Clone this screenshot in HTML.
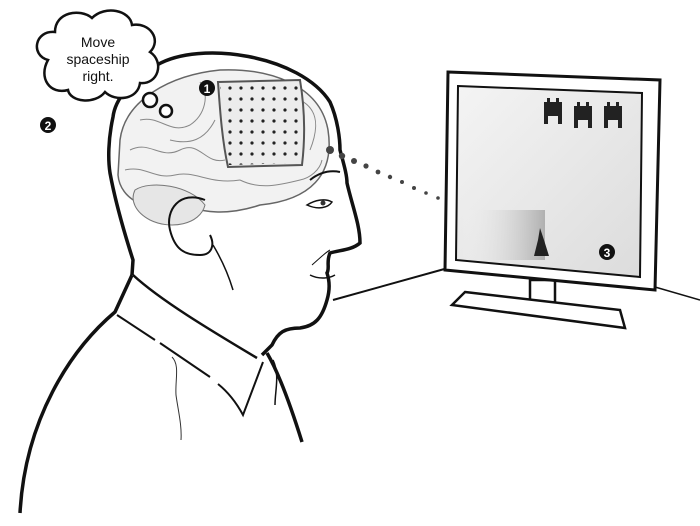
<!DOCTYPE html>
<html><head><meta charset="utf-8"><style>
html,body{margin:0;padding:0;background:#fff;}
svg{display:block;}
text{font-family:"Liberation Sans",sans-serif;}
</style></head><body>
<svg width="700" height="526" viewBox="0 0 700 526" xmlns="http://www.w3.org/2000/svg">
<defs>
<linearGradient id="scr" x1="0" y1="0" x2="1" y2="1">
<stop offset="0" stop-color="#f4f4f4"/><stop offset="1" stop-color="#dcdcdc"/>
</linearGradient>
<linearGradient id="trail" x1="0" y1="0" x2="1" y2="0">
<stop offset="0" stop-color="#fff" stop-opacity="0"/><stop offset="1" stop-color="#999"/>
</linearGradient>
<pattern id="dots" x="226" y="84" width="11" height="11" patternUnits="userSpaceOnUse">
<circle cx="4" cy="4" r="1.6" fill="#222"/>
</pattern>
</defs>

<!-- table lines -->
<path d="M333 300 L448 268" stroke="#111" stroke-width="2" fill="none"/>
<path d="M655 287 L700 300" stroke="#111" stroke-width="1.5" fill="none"/>

<!-- brain -->
<path d="M120 140 C125 100 170 75 220 70 C270 68 320 85 328 130 C335 175 310 200 260 205 C230 215 200 215 175 200 C150 215 120 200 118 175 Z" fill="#f2f2f2" stroke="#666" stroke-width="1.5"/>
<path d="M135 190 C150 180 190 185 205 205 C200 225 170 230 150 220 C135 212 130 200 135 190 Z" fill="#e6e6e6" stroke="#777" stroke-width="1"/>
<g stroke="#888" stroke-width="1" fill="none">
<path d="M130 150 C150 140 160 160 180 150 C200 140 205 165 225 160"/>
<path d="M140 120 C160 115 170 135 190 125 C205 115 210 95 200 82"/>
<path d="M125 170 C145 165 155 180 175 175 C195 170 210 185 240 180"/>
<path d="M215 120 C205 140 190 145 170 140"/>
<path d="M300 100 C320 110 318 130 310 150"/>
<path d="M240 180 C260 190 280 185 300 180 C310 178 320 170 322 160"/>
</g>

<!-- head outline -->
<path d="M157 65 C200 40 300 55 330 102 C338 120 340 140 340 150 C344 165 347 175 347 183 C352 205 360 225 360 243 C352 250 340 250 330 253 C326 262 330 268 327 273 C330 282 330 290 327 300 C322 318 315 326 300 328 C285 328 278 332 272 345 L262 355" fill="none" stroke="#111" stroke-width="3.5"/>
<path d="M157 65 C130 80 115 100 113 117 C108 140 108 160 110 173 C115 200 125 235 133 260 L132 275" fill="none" stroke="#111" stroke-width="3.5"/>
<!-- ear -->
<path d="M205 200 C180 190 165 210 170 230 C175 250 185 255 200 255 C212 255 215 245 210 235" fill="none" stroke="#111" stroke-width="2"/>
<path d="M213 245 C225 265 230 280 233 290" fill="none" stroke="#111" stroke-width="1.5"/>
<!-- eye / brow -->
<path d="M310 180 C320 172 330 170 340 172" fill="none" stroke="#111" stroke-width="2"/>
<path d="M307 205 C315 200 325 198 332 202 C328 208 318 210 307 205 Z" fill="none" stroke="#111" stroke-width="1.5"/>
<circle cx="323" cy="203" r="2.5" fill="#333"/>
<path d="M310 275 C320 280 330 278 335 275" fill="none" stroke="#111" stroke-width="1.5"/>
<path d="M312 265 C320 258 326 252 330 250" fill="none" stroke="#111" stroke-width="1"/>

<!-- electrode array -->
<path d="M218 82 L300 80 C305 110 305 140 302 165 L228 167 C222 140 220 110 218 82 Z" fill="#ececec" stroke="#555" stroke-width="2"/>
<path d="M220 84 L300 82 C304 110 304 140 301 163 L229 165 C223 140 221 110 220 84 Z" fill="url(#dots)"/>

<!-- body -->
<path d="M132 275 L115 312 C70 350 25 420 20 513" fill="none" stroke="#111" stroke-width="3.5"/>
<path d="M133 275 C160 300 210 330 257 358" fill="none" stroke="#111" stroke-width="2.5"/>
<path d="M117 315 L155 340 M160 343 L210 377 M218 384 C228 392 236 402 243 415 L263 362" fill="none" stroke="#111" stroke-width="2"/>
<path d="M267 353 C280 375 292 410 302 442" fill="none" stroke="#111" stroke-width="3.5"/>
<path d="M273 360 C280 375 275 390 275 405" fill="none" stroke="#111" stroke-width="1.5"/>
<path d="M172 357 C180 365 175 380 176 395 C178 410 182 425 181 440" fill="none" stroke="#333" stroke-width="1"/>

<!-- dotted line -->
<g fill="#444">
<circle cx="330" cy="150" r="4"/><circle cx="342" cy="156" r="3.2"/><circle cx="354" cy="161" r="3"/><circle cx="366" cy="166" r="2.6"/>
<circle cx="378" cy="172" r="2.4"/><circle cx="390" cy="177" r="2.2"/><circle cx="402" cy="182" r="2"/><circle cx="414" cy="188" r="2"/>
<circle cx="426" cy="193" r="1.8"/><circle cx="438" cy="198" r="1.8"/>
<circle cx="462" cy="209" r="1.6"/><circle cx="474" cy="214" r="1.6"/><circle cx="486" cy="220" r="1.5"/><circle cx="498" cy="225" r="1.5"/><circle cx="510" cy="230" r="1.4"/><circle cx="522" cy="236" r="1.4"/>
</g>

<!-- monitor -->
<path d="M530 280 L530 305 L555 305 L555 280 Z" fill="#fff" stroke="#111" stroke-width="2.5"/>
<path d="M465 292 L620 310 L625 328 L452 305 Z" fill="#fff" stroke="#111" stroke-width="2.5"/>
<path d="M448 72 L660 80 L655 290 L445 270 Z" fill="#fff" stroke="#111" stroke-width="3"/>
<path d="M458 86 L642 93 L640 277 L456 260 Z" fill="url(#scr)" stroke="#111" stroke-width="2"/>
<rect x="460" y="210" width="85" height="50" fill="url(#trail)" opacity="0.7"/>
<path d="M540 228 L544 240 L549 256 L534 256 L538 240 Z" fill="#222"/>
<g fill="#222">
<rect x="544" y="102" width="18" height="14"/><rect x="547" y="98" width="3" height="4"/><rect x="556" y="98" width="3" height="4"/><rect x="544" y="116" width="4" height="8"/><rect x="558" y="116" width="4" height="8"/>
<rect x="574" y="106" width="18" height="14"/><rect x="577" y="102" width="3" height="4"/><rect x="586" y="102" width="3" height="4"/><rect x="574" y="120" width="4" height="8"/><rect x="588" y="120" width="4" height="8"/>
<rect x="604" y="106" width="18" height="14"/><rect x="607" y="102" width="3" height="4"/><rect x="616" y="102" width="3" height="4"/><rect x="604" y="120" width="4" height="8"/><rect x="618" y="120" width="4" height="8"/>
</g>

<!-- thought cloud -->
<path d="M48 60 C30 55 35 30 55 32 C55 12 80 8 92 18 C105 5 130 10 132 25 C150 22 162 40 150 52 C165 62 158 85 140 83 C138 100 115 102 105 92 C95 105 70 102 68 90 C50 95 38 78 48 60 Z" fill="#fff" stroke="#111" stroke-width="2.5"/>
<circle cx="150" cy="100" r="7" fill="#fff" stroke="#111" stroke-width="2.5"/>
<circle cx="166" cy="111" r="6" fill="#fff" stroke="#111" stroke-width="2.5"/>
<text x="98" y="47" font-size="14" text-anchor="middle" fill="#111">Move</text>
<text x="98" y="64" font-size="14" text-anchor="middle" fill="#111">spaceship</text>
<text x="98" y="81" font-size="14" text-anchor="middle" fill="#111">right.</text>

<!-- markers -->
<circle cx="48" cy="125" r="8" fill="#111"/><text x="48" y="130" font-size="12" font-weight="bold" fill="#fff" text-anchor="middle">2</text>
<circle cx="207" cy="88" r="8" fill="#111"/><text x="207" y="93" font-size="12" font-weight="bold" fill="#fff" text-anchor="middle">1</text>
<circle cx="607" cy="252" r="8" fill="#111"/><text x="607" y="257" font-size="12" font-weight="bold" fill="#fff" text-anchor="middle">3</text>
</svg>
</body></html>
